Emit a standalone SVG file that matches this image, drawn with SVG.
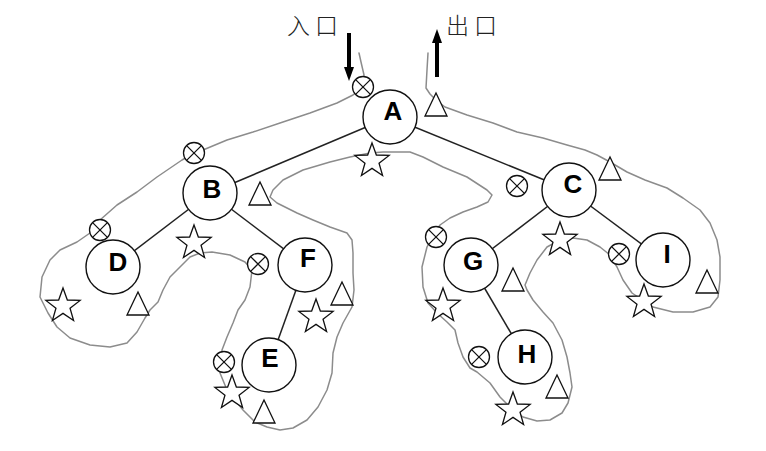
<svg xmlns="http://www.w3.org/2000/svg" xmlns:xlink="http://www.w3.org/1999/xlink" width="766" height="451" viewBox="0 0 766 451">
<style>
.edge{stroke:#222;stroke-width:1.5;fill:none}
.node circle{fill:#fff;stroke:#111;stroke-width:1.4}
.node text{font-family:"Liberation Sans",Arial,sans-serif;font-weight:bold;font-size:26px;text-anchor:middle;fill:#000}
.tour{fill:none;stroke:#8c8c8c;stroke-width:1.5;stroke-linejoin:round;stroke-linecap:round}
.sym{fill:#fff;stroke:#111;stroke-width:1.3}
.arrow{stroke:#000;stroke-width:4;fill:none}
.cjk{font-family:"Noto Sans CJK SC","Noto Sans CJK JP",sans-serif;font-weight:300;font-size:23px;letter-spacing:5px;fill:#222}
</style>
<defs>
<marker id="ah" viewBox="0 0 14 10" markerWidth="14" markerHeight="10" refX="1" refY="5" orient="auto" markerUnits="userSpaceOnUse">
<path d="M0,0 L14,5 L0,10 z" fill="#000"/>
</marker>
<g id="otimes">
<circle cx="0" cy="0" r="10.5" class="sym"/>
<path d="M-7.4,-7.4 L7.4,7.4 M7.4,-7.4 L-7.4,7.4" stroke="#111" stroke-width="1.3"/>
</g>
<polygon id="tri" class="sym" points="0,0 11,23 -11,23"/>
<path id="star" class="sym" d="M0,-18 L4.35,-5.99 L17.12,-5.56 L7.04,2.29 L10.58,14.56 L0,7.4 L-10.58,14.56 L-7.04,2.29 L-17.12,-5.56 L-4.35,-5.99 Z"/>
</defs>
<rect width="766" height="451" fill="#fff"/>

<g id="tour">
<polyline class="tour" points="359,53 361,62 364,75 363,87 353,95 337,103 310,113 283,122 253,132 227,140 203,150 194,153 182,160 157,177 137,192 117,205 100,220 90,233 77,242 60,250 50,260 42,277 40,297 48,313 57,327 70,338 90,345 110,347 127,343 137,332 145,318 150,310 158,302 163,290 170,277 180,267 190,257 200,253 212,252 230,255 245,262 252,270 250,287 245,300 238,310 233,323 227,337 222,350 222,362 220,373 227,390 243,410 255,422 267,427 280,430 293,428 307,420 318,407 327,390 332,373 333,353 337,337 343,323 352,307 354,290 353,273 353,253 352,240 347,233 330,227 313,220 297,213 277,203 270,197 273,190 283,180 303,170 330,162 350,157 370,153 383,152 410,152 423,157 443,167 467,177 487,190 492,195 488,202 477,207 463,212 450,218 440,225 432,237 427,247 422,267 423,287 428,303 437,313 447,322 455,330 458,343 463,357 470,368 477,372 490,383 500,397 510,407 523,417 537,421 550,420 562,413 568,403 572,387 570,373 567,357 562,340 553,323 543,312 533,300 527,290 525,285 530,273 537,260 547,247 560,240 573,238 587,240 600,247 610,255 617,267 623,280 632,293 653,307 673,312 693,312 710,307 718,297 720,280 720,257 717,240 710,223 700,210 683,198 667,188 645,180 627,172 610,162 597,155 585,150 567,145 543,138 517,132 493,123 467,115 445,107 436,100 430,94 426,88 427,70 428,53"/>
</g>

<g id="connectors">
<line class="edge" x1="390" y1="117" x2="210" y2="193"/>
<line class="edge" x1="390" y1="117" x2="569" y2="190"/>
<line class="edge" x1="210" y1="193" x2="113" y2="267"/>
<line class="edge" x1="210" y1="193" x2="305" y2="265"/>
<line class="edge" x1="305" y1="265" x2="269" y2="365"/>
<line class="edge" x1="569" y1="190" x2="471" y2="265"/>
<line class="edge" x1="569" y1="190" x2="663" y2="260"/>
<line class="edge" x1="471" y1="265" x2="525" y2="357"/>
<line class="arrow" x1="349" y1="33" x2="349" y2="68" marker-end="url(#ah)"/>
<line class="arrow" x1="437" y1="77" x2="437" y2="42" marker-end="url(#ah)"/>
</g>

<g id="labels">
<text class="cjk" x="287" y="34">入口</text>
<text class="cjk" x="446" y="34">出口</text>
</g>

<g id="markers">
<use xlink:href="#otimes" href="#otimes" x="363" y="87"/>
<use xlink:href="#otimes" href="#otimes" x="194" y="153"/>
<use xlink:href="#otimes" href="#otimes" x="100" y="230"/>
<use xlink:href="#otimes" href="#otimes" x="258" y="264"/>
<use xlink:href="#otimes" href="#otimes" x="224" y="362"/>
<use xlink:href="#otimes" href="#otimes" x="517" y="186"/>
<use xlink:href="#otimes" href="#otimes" x="436" y="237"/>
<use xlink:href="#otimes" href="#otimes" x="619" y="254"/>
<use xlink:href="#otimes" href="#otimes" x="479" y="357"/>
<use xlink:href="#tri" href="#tri" x="436" y="93"/>
<use xlink:href="#tri" href="#tri" x="260" y="182"/>
<use xlink:href="#tri" href="#tri" x="138" y="292"/>
<use xlink:href="#tri" href="#tri" x="342" y="282"/>
<use xlink:href="#tri" href="#tri" x="264" y="400"/>
<use xlink:href="#tri" href="#tri" x="610" y="157"/>
<use xlink:href="#tri" href="#tri" x="513" y="268"/>
<use xlink:href="#tri" href="#tri" x="707" y="270"/>
<use xlink:href="#tri" href="#tri" x="557" y="375"/>
<use xlink:href="#star" href="#star" x="372" y="161"/>
<use xlink:href="#star" href="#star" x="194" y="243"/>
<use xlink:href="#star" href="#star" x="63" y="306"/>
<use xlink:href="#star" href="#star" x="316" y="317"/>
<use xlink:href="#star" href="#star" x="232" y="393"/>
<use xlink:href="#star" href="#star" x="560" y="240"/>
<use xlink:href="#star" href="#star" x="443" y="306"/>
<use xlink:href="#star" href="#star" x="644" y="302"/>
<use xlink:href="#star" href="#star" x="513" y="410"/>
</g>

<g id="node-A" class="node"><circle cx="390" cy="117" r="27"/><text x="393" y="120">A</text></g>
<g id="node-B" class="node"><circle cx="210" cy="193" r="27"/><text x="212" y="198">B</text></g>
<g id="node-C" class="node"><circle cx="569" cy="190" r="27"/><text x="573" y="193">C</text></g>
<g id="node-D" class="node"><circle cx="113" cy="267" r="27"/><text x="118" y="271">D</text></g>
<g id="node-E" class="node"><circle cx="269" cy="365" r="27"/><text x="270" y="367">E</text></g>
<g id="node-F" class="node"><circle cx="305" cy="265" r="27"/><text x="308" y="267">F</text></g>
<g id="node-G" class="node"><circle cx="471" cy="265" r="27"/><text x="473" y="270">G</text></g>
<g id="node-H" class="node"><circle cx="525" cy="357" r="27"/><text x="527" y="363">H</text></g>
<g id="node-I" class="node"><circle cx="663" cy="260" r="27"/><text x="667" y="263">I</text></g>
</svg>
